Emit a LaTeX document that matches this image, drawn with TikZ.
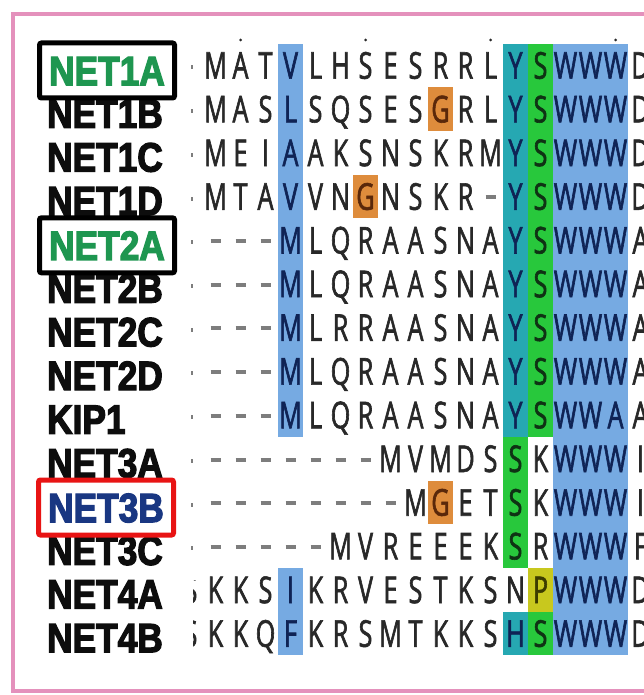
\documentclass[tikz,border=0pt]{standalone}
\usepackage{fontspec}
\newfontfamily\seqfam[FakeStretch=0.68,FakeBold=1.6]{Open Sans}
\newfontfamily\labfam[FakeStretch=0.86,FakeBold=3]{Liberation Sans Bold}
\definecolor{hlblue}{RGB}{118,170,226}
\definecolor{hlteal}{RGB}{38,168,178}
\definecolor{hlgreen}{RGB}{40,200,60}
\definecolor{hlorange}{RGB}{222,140,60}
\definecolor{hlyellow}{RGB}{200,200,30}
\definecolor{pinkline}{RGB}{228,145,188}
\definecolor{seqgray}{RGB}{40,40,40}
\definecolor{navyt}{RGB}{15,35,85}
\definecolor{dkgreen}{RGB}{15,50,20}
\definecolor{browntxt}{RGB}{90,40,10}
\definecolor{olivetxt}{RGB}{60,60,0}
\definecolor{dashgray}{RGB}{125,125,125}
\definecolor{labgreen}{RGB}{30,150,80}
\definecolor{labblue}{RGB}{25,55,130}
\definecolor{boxred}{RGB}{232,20,20}
\newcommand\dsh{\textcolor{dashgray}{\rule[10.5pt]{10pt}{4pt}}}
\tikzset{
  cell/.style={minimum width=25pt, minimum height=43.7pt, inner sep=0pt,
    font=\seqfam\fontsize{37}{37}\selectfont, text height=26.4pt, text depth=0pt},
  cn/.style={cell, text=seqgray},
  cb/.style={cell, fill=hlblue, text=navyt},
  ct/.style={cell, fill=hlteal, text=navyt},
  cg/.style={cell, fill=hlgreen, text=dkgreen},
  co/.style={cell, fill=hlorange, text=browntxt},
  cy/.style={cell, fill=hlyellow, text=olivetxt},
  labn/.style={anchor=west, inner sep=0pt, font=\labfam\fontsize{41}{41}\selectfont,
    text height=29.3pt, text depth=0pt, text=black!95},
  labbox/.style={draw, line width=5pt, rounded corners=2pt, fill=white,
    minimum width=135pt, minimum height=55pt, inner sep=0pt,
    font=\labfam\fontsize{41}{41}\selectfont, text height=29.3pt, text depth=0pt},
}
\newcommand\seqrow[2]{%
  \foreach \ch/\st [count=\i from 0] in {#2}{%
    \node[\st] (r#1-\i) at ({215.5+25*\i},{65.5+43.7*(#1-1)}) {\ch};}}
\begin{document}
\begin{tikzpicture}[x=1pt,y=-1pt]
\useasboundingbox (0,0) rectangle (644,695);
\clip (0,0) rectangle (644,695);
\fill[white] (0,0) rectangle (644,695);
\draw[pinkline, line width=4pt] (12.5,14) rectangle (720,691);
% ruler dots
\foreach \c in {1,6,11,16} \fill[seqgray] ({215.5+25*\c},40) circle (1.5);
% cut-off characters at the left
\foreach \r in {1,...,12} \fill[dashgray] (190.5,{65.5+43.7*(\r-1)}) rectangle (192.5,{65.5+43.7*(\r-1)+4});
\begin{scope}
\clip (193,580) rectangle (202,660);
\node[cn] (r13-x) at (190.5,{65.5+43.7*12}) {S};
\node[cn] (r14-x) at (190.5,{65.5+43.7*13}) {S};
\end{scope}
% sequences
\seqrow{1}{M/cn,A/cn,T/cn,V/cb,L/cn,H/cn,S/cn,E/cn,S/cn,R/cn,R/cn,L/cn,Y/ct,S/cg,W/cb,W/cb,W/cb,D/cn}
\seqrow{2}{M/cn,A/cn,S/cn,L/cb,S/cn,Q/cn,S/cn,E/cn,S/cn,G/co,R/cn,L/cn,Y/ct,S/cg,W/cb,W/cb,W/cb,D/cn}
\seqrow{3}{M/cn,E/cn,I/cn,A/cb,A/cn,K/cn,S/cn,N/cn,S/cn,K/cn,R/cn,M/cn,Y/ct,S/cg,W/cb,W/cb,W/cb,D/cn}
\seqrow{4}{M/cn,T/cn,A/cn,V/cb,V/cn,N/cn,G/co,N/cn,S/cn,K/cn,R/cn,\dsh/cn,Y/ct,S/cg,W/cb,W/cb,W/cb,D/cn}
\seqrow{5}{\dsh/cn,\dsh/cn,\dsh/cn,M/cb,L/cn,Q/cn,R/cn,A/cn,A/cn,S/cn,N/cn,A/cn,Y/ct,S/cg,W/cb,W/cb,W/cb,A/cn}
\seqrow{6}{\dsh/cn,\dsh/cn,\dsh/cn,M/cb,L/cn,Q/cn,R/cn,A/cn,A/cn,S/cn,N/cn,A/cn,Y/ct,S/cg,W/cb,W/cb,W/cb,A/cn}
\seqrow{7}{\dsh/cn,\dsh/cn,\dsh/cn,M/cb,L/cn,R/cn,R/cn,A/cn,A/cn,S/cn,N/cn,A/cn,Y/ct,S/cg,W/cb,W/cb,W/cb,A/cn}
\seqrow{8}{\dsh/cn,\dsh/cn,\dsh/cn,M/cb,L/cn,Q/cn,R/cn,A/cn,A/cn,S/cn,N/cn,A/cn,Y/ct,S/cg,W/cb,W/cb,W/cb,A/cn}
\seqrow{9}{\dsh/cn,\dsh/cn,\dsh/cn,M/cb,L/cn,Q/cn,R/cn,A/cn,A/cn,S/cn,N/cn,A/cn,Y/ct,S/cg,W/cb,W/cb,A/cb,A/cn}
\seqrow{10}{\dsh/cn,\dsh/cn,\dsh/cn,\dsh/cn,\dsh/cn,\dsh/cn,\dsh/cn,M/cn,V/cn,M/cn,D/cn,S/cn,S/cg,K/cn,W/cb,W/cb,W/cb,I/cn}
\seqrow{11}{\dsh/cn,\dsh/cn,\dsh/cn,\dsh/cn,\dsh/cn,\dsh/cn,\dsh/cn,\dsh/cn,M/cn,G/co,E/cn,T/cn,S/cg,K/cn,W/cb,W/cb,W/cb,I/cn}
\seqrow{12}{\dsh/cn,\dsh/cn,\dsh/cn,\dsh/cn,\dsh/cn,M/cn,V/cn,R/cn,E/cn,E/cn,E/cn,K/cn,S/cg,R/cn,W/cb,W/cb,W/cb,F/cn}
\seqrow{13}{K/cn,K/cn,S/cn,I/cb,K/cn,R/cn,V/cn,E/cn,S/cn,T/cn,K/cn,S/cn,N/cn,P/cy,W/cb,W/cb,W/cb,D/cn}
\seqrow{14}{K/cn,K/cn,Q/cn,F/cb,K/cn,R/cn,S/cn,M/cn,T/cn,K/cn,K/cn,S/cn,H/ct,S/cg,W/cb,W/cb,W/cb,D/cn}
% labels
\node[labn] (L2) at (47,{65.5+43.7*1+4}) {NET1B};
\node[labn] (L3) at (47,{65.5+43.7*2+4}) {NET1C};
\node[labn] (L4) at (47,{65.5+43.7*3+4}) {NET1D};
\node[labn] (L6) at (47,{65.5+43.7*5+4}) {NET2B};
\node[labn] (L7) at (47,{65.5+43.7*6+4}) {NET2C};
\node[labn] (L8) at (47,{65.5+43.7*7+4}) {NET2D};
\node[labn] (L9) at (47,{65.5+43.7*8+4}) {KIP1};
\node[labn] (L10) at (47,{65.5+43.7*9+4}) {NET3A};
\node[labn] (L12) at (47,{65.5+43.7*11+4}) {NET3C};
\node[labn] (L13) at (47,{65.5+43.7*12+4}) {NET4A};
\node[labn] (L14) at (47,{65.5+43.7*13+4}) {NET4B};
\node[labbox, draw=black, text=labgreen] (L1) at (107,{65.5+5}) {NET1A};
\node[labbox, draw=black, text=labgreen] (L5) at (107,{65.5+43.7*4+5}) {NET2A};
\node[labbox, draw=boxred, text=labblue] (L11) at (106,{65.5+43.7*10+5}) {NET3B};
\end{tikzpicture}
\end{document}
